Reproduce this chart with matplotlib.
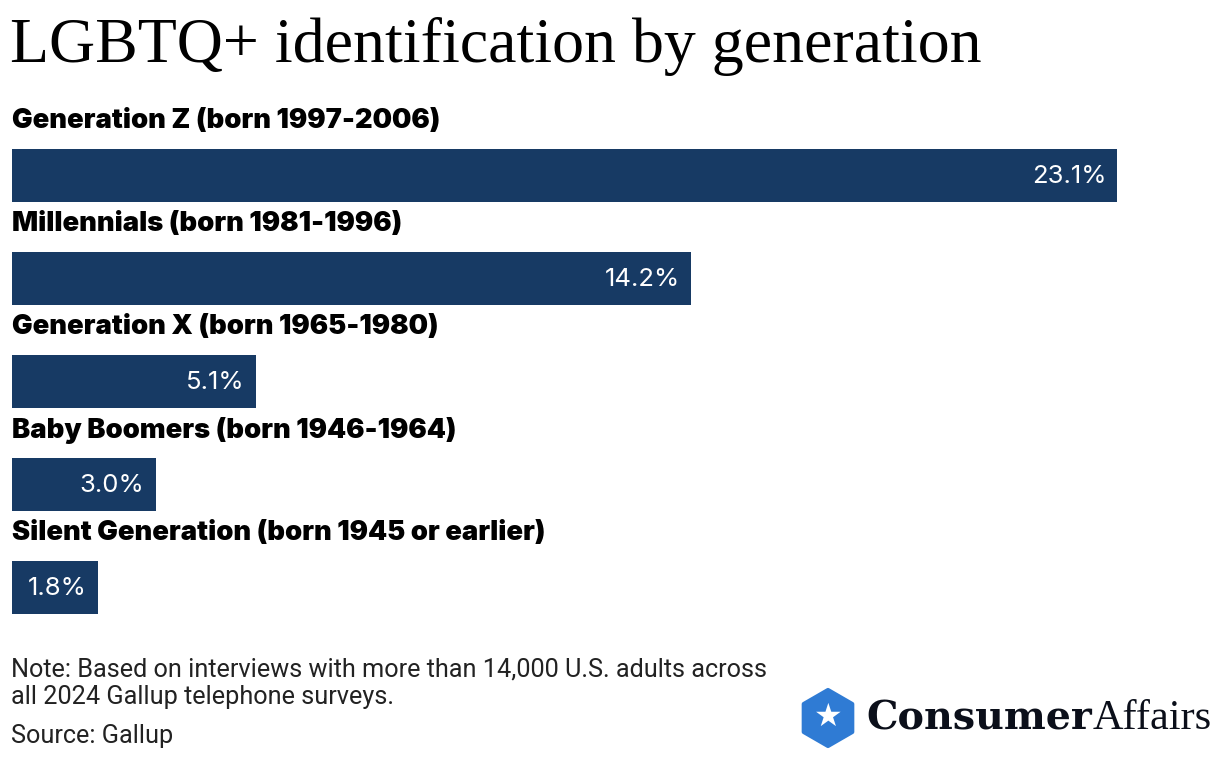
import matplotlib
matplotlib.use("Agg")
import matplotlib.pyplot as plt
from matplotlib.patches import RegularPolygon
from matplotlib.transforms import IdentityTransform
import numpy as np

categories = [
    "Generation Z (born 1997-2006)",
    "Millennials (born 1981-1996)",
    "Generation X (born 1965-1980)",
    "Baby Boomers (born 1946-1964)",
    "Silent Generation (born 1945 or earlier)",
]
values = [23.1, 14.2, 5.1, 3.0, 1.8]
value_labels = ["23.1%", "14.2%", "5.1%", "3.0%", "1.8%"]

title = "LGBTQ+ identification by generation"
note = "Note: Based on interviews with more than 14,000 U.S. adults across\nall 2024 Gallup telephone surveys."
source = "Source: Gallup"

BAR = "#173a64"
W, H = 1220, 760
fig = plt.figure(figsize=(W / 100, H / 100), dpi=100)
fig.patch.set_facecolor("white")

px_per_unit_x = 47.85
xmax = 25
ax_left, ax_top = 12, 124
spacing = 103.1
ax_h = spacing * 5
ax_w = px_per_unit_x * xmax
ax = fig.add_axes([ax_left / W, 1 - (ax_top + ax_h) / H, ax_w / W, ax_h / H])
ax.set_xlim(0, xmax)
ax.set_ylim(4.5, -0.5)
ax.axis("off")

y = np.arange(len(values))
ax.barh(y, values, height=0.515, color=BAR, left=0)
for i, (v, lab, cat) in enumerate(zip(values, value_labels, categories)):
    ax.text(v - 0.23, i + 0.01, lab, ha="right", va="center", color="white",
            fontsize=18.5, family="Inter", fontweight="normal")
    ax.text(0.0, i - 0.53, cat, ha="left", va="center", color="black",
            fontsize=19.7, family="Inter", fontweight="black", clip_on=False)

fig.text(10 / W, 1 - 47 / H, title, ha="left", va="center", fontsize=46,
         family="Liberation Serif", color="black")

fig.text(11 / W, 1 - 683 / H, note, ha="left", va="center", fontsize=18.2,
         family="Roboto", color="#222222", linespacing=1.2)
fig.text(11 / W, 1 - 736 / H, source, ha="left", va="center", fontsize=18.2,
         family="Roboto", color="#222222")

# logo
hexa = RegularPolygon((828, H - 718), numVertices=6, radius=28, orientation=0,
                      facecolor="#2f7bd4", edgecolor="#2f7bd4", linewidth=3,
                      joinstyle="round", transform=IdentityTransform())
fig.patches.append(hexa)
fig.text(828 / W, 1 - 717 / H, "★", ha="center", va="center", fontsize=23,
         color="white", family="DejaVu Sans")

t1 = fig.text(866 / W, 1 - 719 / H, "Consumer", ha="left", va="center",
              fontsize=28.5, family="DejaVu Serif", fontweight="bold", color="#0b0f1a")
fig.canvas.draw()
bb = t1.get_window_extent()
fig.text((bb.x1 + 1) / W, 1 - 719 / H, "Affairs", ha="left", va="center",
         fontsize=30.5, family="Liberation Serif", color="#0b0f1a")

fig.savefig("out.png", dpi=100, facecolor="white")
